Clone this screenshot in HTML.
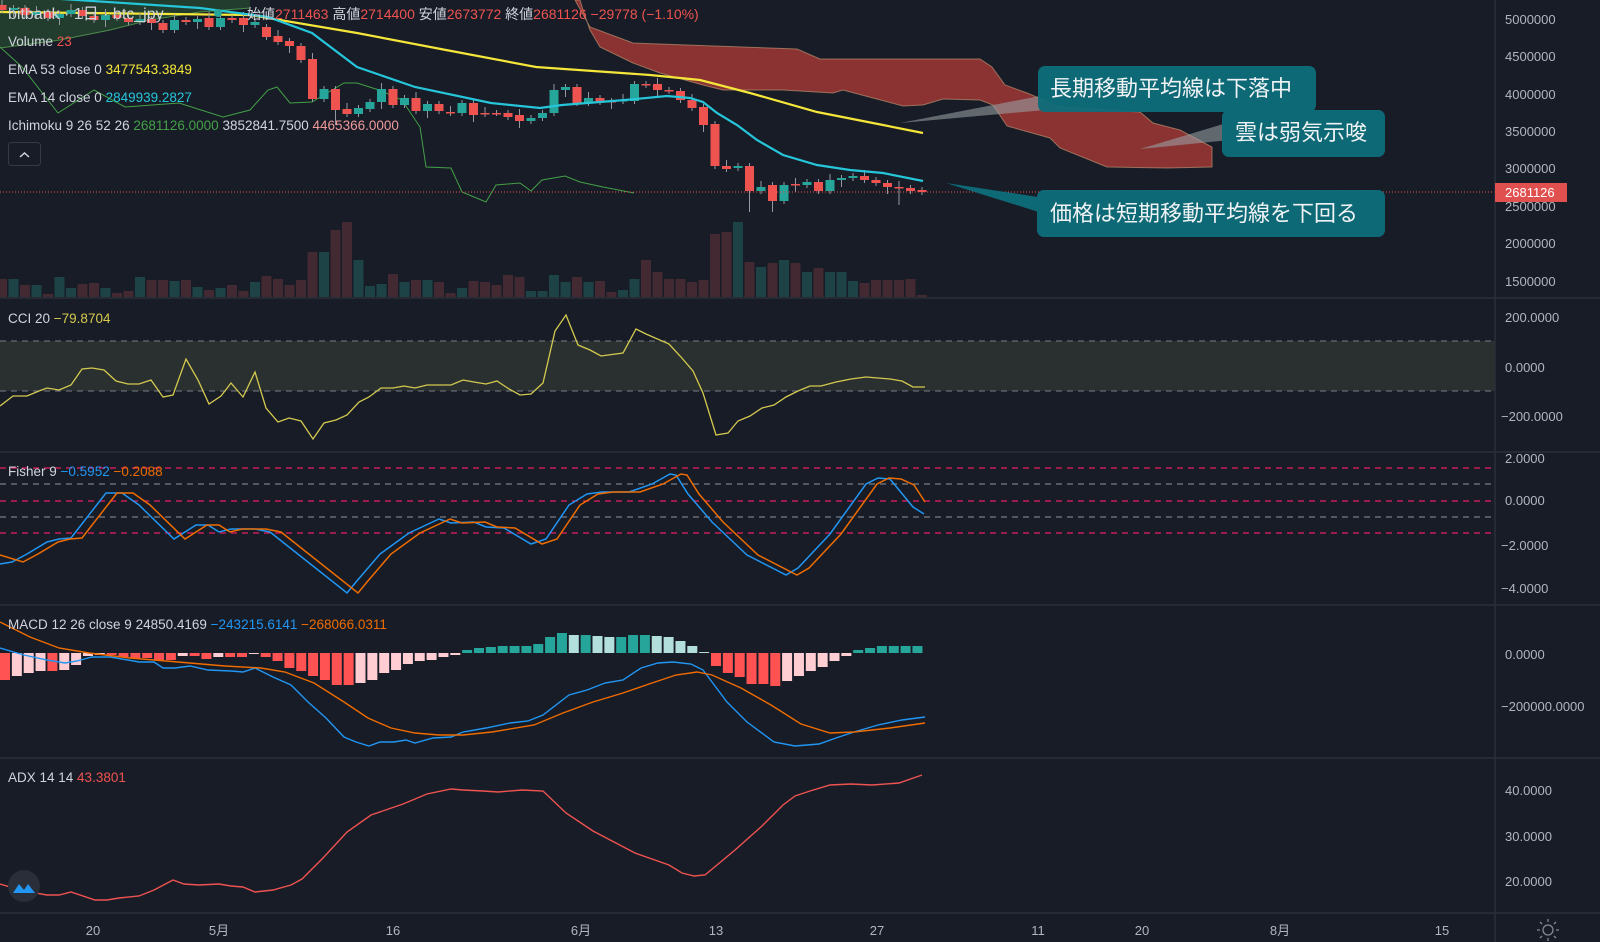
<!DOCTYPE html>
<html><head><meta charset="utf-8">
<style>
html,body{margin:0;padding:0;background:#181c27;}
svg{display:block;}
text{font-family:"Liberation Sans","Noto Sans CJK JP",sans-serif;}
</style></head>
<body>
<svg id="s" width="1600" height="942" xmlns="http://www.w3.org/2000/svg">
<rect width="1600" height="942" fill="#181c27"/>
<g id="g"></g>
<!-- pane separators -->
<g stroke="#2a2e39" stroke-width="1.5">
<line x1="0" y1="298" x2="1600" y2="298"/>
<line x1="0" y1="452" x2="1600" y2="452"/>
<line x1="0" y1="605" x2="1600" y2="605"/>
<line x1="0" y1="758" x2="1600" y2="758"/>
<line x1="0" y1="913" x2="1600" y2="913"/>
<line x1="1495" y1="0" x2="1495" y2="942"/>
</g>
<!-- price axis labels -->
<g fill="#b2b5be" font-size="13">
<text x="1505" y="24">5000000</text><text x="1505" y="61">4500000</text>
<text x="1505" y="99">4000000</text><text x="1505" y="136">3500000</text>
<text x="1505" y="173">3000000</text><text x="1505" y="211">2500000</text>
<text x="1505" y="248">2000000</text><text x="1505" y="286">1500000</text>
<text x="1505" y="322">200.0000</text><text x="1505" y="372">0.0000</text>
<text x="1501" y="421">−200.0000</text>
<text x="1505" y="463">2.0000</text><text x="1505" y="505">0.0000</text>
<text x="1501" y="550">−2.0000</text><text x="1501" y="593">−4.0000</text>
<text x="1505" y="659">0.0000</text><text x="1501" y="711">−200000.0000</text>
<text x="1505" y="795">40.0000</text><text x="1505" y="841">30.0000</text>
<text x="1505" y="886">20.0000</text>
</g>
<rect x="1495" y="183" width="72" height="19" fill="#e0504f"/>
<text x="1505" y="197" fill="#fff" font-size="13">2681126</text>
<!-- time axis -->
<g fill="#b2b5be" font-size="13" text-anchor="middle">
<text x="93" y="935">20</text><text x="219" y="935">5月</text><text x="393" y="935">16</text>
<text x="581" y="935">6月</text><text x="716" y="935">13</text><text x="877" y="935">27</text>
<text x="1038" y="935">11</text><text x="1142" y="935">20</text><text x="1280" y="935">8月</text>
<text x="1442" y="935">15</text>
</g>
<g fill="none" stroke="#868993" stroke-width="1.3">
<circle cx="1548" cy="930" r="5"/>
<path d="M1540 930h-3M1556 930h3M1548 922v-3M1548 938v3M1542 924l-2-2M1554 936l2 2M1554 924l2-2M1542 936l-2 2"/>
</g>
<!-- headers -->
<g font-size="16" fill="#d1d4dc">
<text x="8" y="19">bitbank · 1日 · btc_jpy</text>
</g>
<circle cx="218" cy="13" r="4" fill="#26a69a"/>
<text x="247" y="19" font-size="14" fill="#d1d4dc">始値<tspan fill="#ef5350">2711463</tspan> 高値<tspan fill="#ef5350">2714400</tspan> 安値<tspan fill="#ef5350">2673772</tspan> 終値<tspan fill="#ef5350">2681126</tspan> <tspan fill="#ef5350">−29778 (−1.10%)</tspan></text>
<g font-size="13.5" fill="#d1d4dc">
<text x="8" y="46">Volume <tspan fill="#ef5350">23</tspan></text>
<text x="8" y="74">EMA 53 close 0 <tspan fill="#f5e63a">3477543.3849</tspan></text>
<text x="8" y="102">EMA 14 close 0 <tspan fill="#26c6da">2849939.2827</tspan></text>
<text x="8" y="130">Ichimoku 9 26 52 26 <tspan fill="#43a047">2681126.0000</tspan> 3852841.7500 <tspan fill="#ef9a9a">4465366.0000</tspan></text>
<text x="8" y="323">CCI 20 <tspan fill="#d4c94f">−79.8704</tspan></text>
<text x="8" y="476">Fisher 9 <tspan fill="#2196f3">−0.5952</tspan> <tspan fill="#ef6c00">−0.2088</tspan></text>
<text x="8" y="629">MACD 12 26 close 9 <tspan>24850.4169</tspan> <tspan fill="#2196f3">−243215.6141</tspan> <tspan fill="#ef6c00">−268066.0311</tspan></text>
<text x="8" y="782">ADX 14 14 <tspan fill="#ef5350">43.3801</tspan></text>
</g>
<rect x="8.5" y="142.5" width="32" height="23" rx="3" fill="none" stroke="#363a45"/>
<path d="M20 157l4.5-4 4.5 4" fill="none" stroke="#d1d4dc" stroke-width="1.5"/>
<!-- logo -->
<circle cx="24" cy="886" r="16" fill="#2a2e39"/>
<path d="M13 893l6-9 5 6 4-6 7 9z" fill="#2196f3"/>
<!-- callouts -->
<g fill="#0e6e7b" opacity="0.95">
<polygon points="900,123 1045,95 1045,110" fill="#9aa3a6" opacity="0.6"/>
<polygon points="1140,149 1230,122 1230,140" fill="#9aa3a6" opacity="0.6"/>
<polygon points="946,183 1045,198 1045,214"/>
<rect x="1038" y="66" width="278" height="46" rx="7"/>
<rect x="1222" y="110" width="163" height="47" rx="7"/>
<rect x="1037" y="190" width="348" height="47" rx="7"/>
</g>
<g fill="#f0f3f5" font-size="22">
<text x="1050" y="96">長期移動平均線は下落中</text>
<text x="1235" y="140">雲は弱気示唆</text>
<text x="1050" y="221">価格は短期移動平均線を下回る</text>
</g>
</svg>
<script>
var g=document.getElementById('g'),NS='http://www.w3.org/2000/svg',h='';
function pl(pts,c,w,extra){h+='<polyline fill="none" stroke="'+c+'" stroke-width="'+w+'" '+(extra||'')+' points="'+pts.map(function(p){return p.join(',')}).join(' ')+'"/>';}
// ichimoku green area
h+='<polygon points="0,0 250,0 250,8 200,12 150,20 110,30 60,40 0,48" fill="#2b5a35" opacity="0.55"/>';
pl([[0,48],[60,40],[110,30],[150,20],[200,12],[250,8]],'#4c8c4a',1);
// red cloud
h+='<polygon points="575,0 590,27 633,43 797,49 820,59 980,59 992,67 1005,85 1027,93 1060,107 1140,112 1153,123 1180,130 1212,147 1212,167 1167,168 1107,167 1060,148 1050,138 1007,126 993,105 980,100 943,99 923,105 903,106 873,98 843,90 833,93 783,90 723,90 703,85 660,73 633,63 600,47 590,30 583,10 580,0" fill="#8b3333" stroke="#c9a27a" stroke-width="1" stroke-opacity="0.6"/>';
// volume
var vol={0:18,1:18,2:12,3:12,4:3,5:20,6:9,7:13,8:14,9:9,10:4,11:6,12:20,13:17,14:17,15:16,16:17,17:10,18:7,19:9,20:12,21:6,22:15,23:21,24:18,25:12,26:17,27:45,28:45,29:67,30:75,31:37,32:11,33:13,34:23,35:15,36:17,37:17,38:15,39:4,40:9,41:16,42:15,43:12,44:22,45:20,46:6,47:6,48:22,49:15,50:20,51:15,52:16,53:5,54:7,55:18,56:37,57:25,58:18,59:18,60:15,61:17,62:63,63:65,64:75,65:35,66:30,67:34,68:37,69:34,70:25,71:29,72:25,73:25,74:16,75:14,76:17,77:17,78:17,79:18,80:2};
var C=[[5,10],[10,8],[8,15],[15,12],[12,18],[18,14],[14,10],[10,16],[16,20],[20,15],[15,18],[18,22],[22,19],[19,23],[23,30],[30,20],[20,22],[22,19],[18,27],[27,18],[18,20],[18,25],[25,22],[27,37],[36,42],[41,46],[46,60],[59,99],[99,89],[89,110],[109,114],[114,108],[109,102],[102,89],[89,105],[105,98],[98,111],[111,104],[104,111],[112,113],[113,103],[103,115],[113,114],[113,113],[113,117],[115,121],[121,118],[118,113],[113,90],[90,87],[87,103],[103,98],[98,102],[101,102],[101,100],[101,84],[84,85],[84,90],[90,91],[91,100],[100,108],[107,125],[124,166],[166,169],[168,166],[166,191],[191,187],[185,201],[201,185],[184,185],[185,182],[182,191],[191,180],[180,178],[178,176],[176,180],[180,183],[183,187],[187,188],[188,191],[190,192]];
for(var i=0;i<C.length;i++){var x=2+i*11.5,o=C[i][0],c=C[i][1],up=c<o;
 var vh=vol[i]||10;h+='<rect x="'+(x-5)+'" y="'+(297-vh)+'" width="10" height="'+vh+'" fill="'+(up?'#1f4a4d':'#4a2b35')+'" opacity="0.85"/>';}
// EMAs and chikou
pl([[0,12],[250,15],[357,33],[446,50],[536,67],[550,68],[650,75],[700,80],[750,93],[817,112],[883,125],[923,133]],'#f5e63a',2.2);
pl([[0,47],[22,67],[58,113],[94,90],[125,107],[179,103],[223,117],[250,110],[268,90],[277,87],[290,103],[312,102],[344,83],[357,83],[379,90],[402,100],[420,127],[426,167],[451,168],[462,192],[486,202],[496,185],[520,183],[531,191],[542,180],[565,176],[580,182],[603,187],[634,193]],'#43a047',1);
for(var i=0;i<C.length;i++){var x=2+i*11.5,o=C[i][0],c=C[i][1],up=c<o,col=up?'#26a69a':'#ef5350';
 var t=Math.min(o,c),b=Math.max(o,c);var wt=t-(i%3==0?6:3),wb=b+(i%4==1?7:3);
 if(i==67||i==65)wb=212;if(i==78)wb=205;if(i==29)wb=125;
 h+='<line x1="'+x+'" y1="'+wt+'" x2="'+x+'" y2="'+wb+'" stroke="#9598a1" stroke-width="1"/>';
 h+='<rect x="'+(x-4.5)+'" y="'+t+'" width="9" height="'+Math.max(b-t,1.5)+'" fill="'+col+'"/>';}
pl([[0,-5],[200,8],[268,17],[312,33],[357,67],[415,87],[491,103],[540,108],[562,105],[625,100],[667,96],[690,98],[703,102],[717,113],[737,125],[757,140],[783,155],[817,165],[850,170],[883,173],[923,181]],'#26c6da',2.2);
h+='<line x1="0" y1="192" x2="1495" y2="192" stroke="#ef5350" stroke-width="1" stroke-dasharray="1,2"/>';
// CCI
h+='<rect x="0" y="341" width="1495" height="50" fill="#2a302f"/>';
h+='<line x1="0" y1="341" x2="1495" y2="341" stroke="#787b86" stroke-dasharray="6,5"/><line x1="0" y1="391" x2="1495" y2="391" stroke="#787b86" stroke-dasharray="6,5"/>';
pl([[0,406],[13,396],[27,396],[39,391],[47,388],[59,390],[71,385],[82,369],[92,368],[104,370],[116,381],[128,384],[139,384],[151,380],[163,397],[173,395],[186,359],[198,380],[209,404],[221,396],[231,383],[243,397],[255,372],[266,408],[278,422],[289,418],[301,421],[313,439],[324,423],[336,420],[347,415],[359,402],[369,397],[381,388],[393,388],[404,386],[415,388],[427,385],[451,385],[463,380],[474,382],[486,384],[497,381],[509,389],[520,395],[531,394],[543,383],[555,331],[566,315],[578,345],[590,350],[601,356],[623,353],[636,329],[646,334],[669,344],[681,357],[693,371],[703,393],[716,435],[728,433],[738,421],[750,416],[762,408],[774,405],[786,397],[798,391],[810,386],[821,386],[836,382],[851,379],[866,377],[890,379],[902,381],[913,387],[925,387]],'#d4c94f',1.3);
// Fisher
[[468,'#e91e63'],[501,'#e91e63'],[533,'#e91e63'],[484,'#787b86'],[517,'#787b86']].forEach(function(l){h+='<line x1="0" y1="'+l[0]+'" x2="1495" y2="'+l[0]+'" stroke="'+l[1]+'" stroke-width="1.3" stroke-dasharray="6,5"/>';});
var FB=[[0,564],[12,562],[27,554],[47,542],[59,539],[71,538],[106,493],[122,493],[139,505],[174,539],[196,525],[208,525],[219,532],[231,529],[255,529],[270,532],[347,593],[356,582],[380,554],[409,533],[439,519],[451,523],[474,522],[486,527],[504,528],[531,544],[546,539],[569,505],[587,494],[602,492],[629,492],[652,484],[670,474],[676,475],[688,494],[712,522],[747,555],[786,575],[798,568],[830,534],[866,484],[878,478],[890,479],[913,507],[924,514]];
var FO=[[0,555]].concat(FB.slice(1).map(function(p){return [Math.min(p[0]+11,925),p[1]];}));
FO[FO.length-1]=[925,502];FO[FO.length-2]=[914,485];
pl(FB,'#2196f3',1.5);pl(FO,'#ef6c00',1.5);
// MACD hist
var H=[-27,-23,-20,-18,-18,-17,-12,-3,-2,-2,-4,-5,-5,-7,-7,-3,-3,-6,-4,-4,-4,-1,-4,-8,-15,-18,-23,-27,-32,-32,-30,-27,-20,-17,-11,-8,-7,-4,-2,3,5,6,7,7,7,9,16,20,18,18,17,16,16,18,18,17,16,12,7,1,-13,-20,-24,-31,-31,-33,-28,-23,-18,-14,-8,-3,3,5,7,7,7,7];
for(var k=0;k<H.length;k++){var v=H[k],p=k?H[k-1]:0,x=k*11.85,col;
 if(v>=0)col=(v>=p)?'#26a69a':'#b2dfdb';else col=(v<=p)?'#ff5252':'#ffcdd2';
 h+='<rect x="'+x+'" y="'+(v>=0?653-v:653)+'" width="10" height="'+Math.max(Math.abs(v),1)+'" fill="'+col+'"/>';}
pl([[0,648],[24,655],[47,660],[65,663],[77,661],[92,657],[110,657],[128,660],[139,662],[154,662],[163,668],[175,668],[190,666],[208,670],[231,671],[243,672],[255,668],[273,677],[291,685],[308,702],[326,718],[344,737],[356,742],[369,746],[380,742],[394,742],[406,740],[415,743],[433,738],[451,737],[463,732],[486,728],[510,723],[528,721],[543,715],[569,695],[587,690],[605,683],[623,680],[641,668],[658,663],[673,662],[691,664],[703,670],[727,702],[747,722],[774,742],[795,746],[819,744],[836,738],[854,732],[878,725],[902,720],[925,717]],'#2196f3',1.4);
pl([[0,622],[30,637],[59,648],[89,653],[130,658],[178,662],[225,666],[261,668],[285,672],[314,683],[344,702],[368,718],[391,728],[415,733],[439,735],[463,735],[492,732],[534,725],[563,713],[593,702],[623,693],[652,683],[676,675],[697,672],[712,675],[741,688],[771,705],[801,724],[830,733],[854,732],[890,728],[925,723]],'#ef6c00',1.4);
// ADX
pl([[0,884],[24,891],[47,895],[59,895],[71,892],[95,900],[107,900],[119,898],[139,896],[154,890],[173,880],[184,884],[199,885],[219,884],[231,886],[243,887],[255,892],[273,890],[291,885],[302,879],[323,858],[347,832],[371,815],[403,804],[427,794],[451,789],[463,790],[483,791],[498,792],[522,790],[543,791],[566,813],[593,831],[635,853],[669,865],[682,873],[694,876],[705,875],[735,850],[762,826],[783,805],[795,796],[810,791],[830,785],[851,784],[872,785],[899,783],[922,775]],'#ef5350',1.4);
g.innerHTML=h;
</script>
</body></html>
